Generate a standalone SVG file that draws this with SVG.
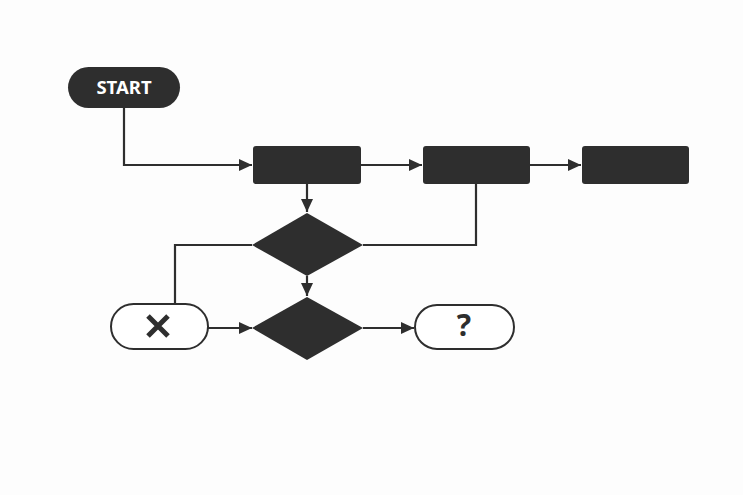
<svg xmlns="http://www.w3.org/2000/svg" width="743" height="495" viewBox="0 0 743 495">
<style>
.dark{fill:#2e2e2e}
.pill{fill:#ffffff;stroke:#2e2e2e;stroke-width:2}
.ln{fill:none;stroke:#2e2e2e;stroke-width:2.2}
.lbl{font-family:"Noto Sans","Open Sans","Liberation Sans",sans-serif;font-weight:bold;text-anchor:middle}
</style>
<defs>
<marker id="ah" markerWidth="14" markerHeight="12" refX="13" refY="6" orient="auto" markerUnits="userSpaceOnUse">
<path d="M0,0 L13,6 L0,12 Z" fill="#2e2e2e"/>
</marker>
</defs>
<rect width="743" height="495" fill="#fdfdfd"/>
<g id="connectors">
<path class="ln" d="M124,108 V165 H252" marker-end="url(#ah)"/>
<path class="ln" d="M361,165 H422" marker-end="url(#ah)"/>
<path class="ln" d="M530,165 H581" marker-end="url(#ah)"/>
<path class="ln" d="M307,184 V212" marker-end="url(#ah)"/>
<path class="ln" d="M476,184 V245 H363"/>
<path class="ln" d="M252,245 H175 V304"/>
<path class="ln" d="M307,276 V296" marker-end="url(#ah)"/>
<path class="ln" d="M208,328 H252" marker-end="url(#ah)"/>
<path class="ln" d="M363,328 H414" marker-end="url(#ah)"/>
</g>
<g id="start">
<rect class="dark" x="68" y="67" width="112" height="41" rx="20.5"/>
<text class="lbl" x="124" y="94" font-size="18.5" fill="#ffffff">START</text>
</g>
<g id="box1"><rect class="dark" x="253" y="146" width="108" height="38" rx="3"/></g>
<g id="box2"><rect class="dark" x="423" y="146" width="107" height="38" rx="3"/></g>
<g id="box3"><rect class="dark" x="582" y="146" width="107" height="38" rx="3"/></g>
<g id="decision1"><polygon class="dark" points="307,213 363,245 307,276 252,245"/></g>
<g id="decision2"><polygon class="dark" points="307,297 363,328 307,360 252,328"/></g>
<g id="fail">
<rect class="pill" x="111" y="304" width="97" height="45" rx="22.5"/>
<path d="M148,316 L168,336 M168,316 L148,336" stroke="#2e2e2e" stroke-width="5" fill="none"/>
</g>
<g id="unknown">
<rect class="pill" x="415" y="305" width="99" height="44" rx="22"/>
<text class="lbl" x="464" y="336" font-size="30" fill="#2e2e2e">?</text>
</g>
</svg>
